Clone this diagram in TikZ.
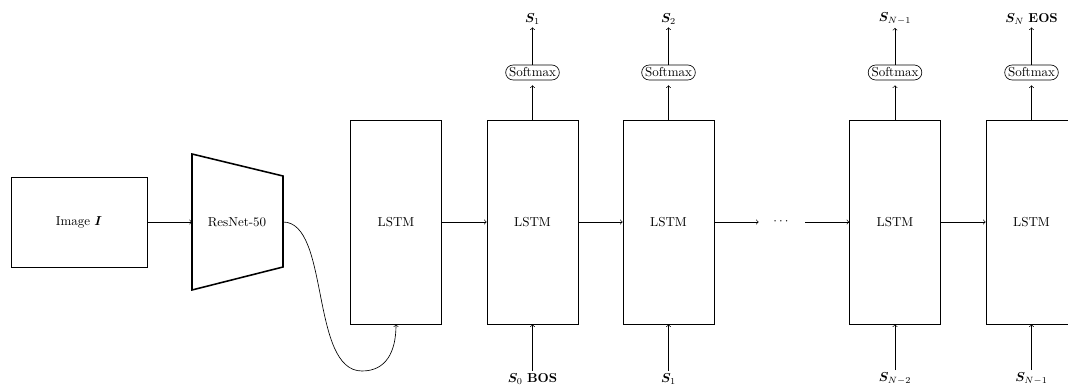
\documentclass[tikz,border=0pt]{standalone}
\usepackage{amsmath}
\usepackage{bm}
\begin{document}
\def\px{0.77pt}
\begin{tikzpicture}[x=0.77pt,y=-0.77pt, line width=0.5pt,
  box/.style={draw, inner sep=0pt},
  lstm/.style={box, minimum width=91*\px, minimum height=204*\px},
  softmax/.style={draw, rounded corners=7.5*\px, inner xsep=2.6pt, inner ysep=1pt,
                  minimum height=15*\px},
  lbl/.style={inner sep=2pt},
  arr/.style={->}]
\useasboundingbox (0,0) rectangle (1068,385);

% input image
\node[box, minimum width=136*\px, minimum height=90*\px] (img) at (79,222) {Image $\bm{I}$};

% ResNet-50 encoder drawn as a trapezoid
\draw[very thick] (192,154) -- (283,176) -- (283,267) -- (192,290) -- cycle;
\node (resnet) at (237,222) {ResNet-50};
\coordinate (rnw) at (192,222);
\coordinate (rne) at (283,222);

% LSTM cells
\node[lstm] (l1) at (396,222) {LSTM};
\node[lstm] (l2) at (532.5,222) {LSTM};
\node[lstm] (l3) at (668.5,222) {LSTM};
\node[minimum width=46*\px, inner sep=0pt] (dots) at (782,222) {$\cdots$};
\node[lstm] (l4) at (895,222) {LSTM};
\node[lstm] (l5) at (1031.5,222) {LSTM};

% softmax layers
\node[softmax] (sm2) at (532.5,72.5) {Softmax};
\node[softmax] (sm3) at (668.5,72.5) {Softmax};
\node[softmax] (sm4) at (895,72.5) {Softmax};
\node[softmax] (sm5) at (1031.5,72.5) {Softmax};

% outputs
\node[lbl] (o2) at (532.5,19) {$\bm{S}_1$};
\node[lbl] (o3) at (668.5,19) {$\bm{S}_2$};
\node[lbl] (o4) at (895,19) {$\bm{S}_{N-1}$};
\node[lbl] (o5) at (1031.5,19) {$\bm{S}_N$~\textbf{EOS}};

% inputs
\node[lbl] (i2) at (532.5,379) {$\bm{S}_0$~\textbf{BOS}};
\node[lbl] (i3) at (668.5,379) {$\bm{S}_1$};
\node[lbl] (i4) at (895,379) {$\bm{S}_{N-2}$};
\node[lbl] (i5) at (1031.5,379) {$\bm{S}_{N-1}$};

% connectors
\draw[arr] (img) -- (rnw);
\coordinate (dip) at (362,371);
\draw[arr] (rne) .. controls (330,222) and (310,371) .. (dip)
                 .. controls (386,371) and (396,352) .. (l1.south);
\draw[arr] (l1) -- (l2);
\draw[arr] (l2) -- (l3);
\draw[arr] (l3) -- (dots);
\draw[arr] (dots) -- (l4);
\draw[arr] (l4) -- (l5);

\foreach \k in {2,3,4,5}{
  \draw[arr, shorten >=5*\px] (l\k.north) -- (sm\k.south);
  \draw[arr] (sm\k.north) -- (o\k.south);
  \draw[arr] (i\k.north) -- (l\k.south);
}
\end{tikzpicture}
\end{document}
